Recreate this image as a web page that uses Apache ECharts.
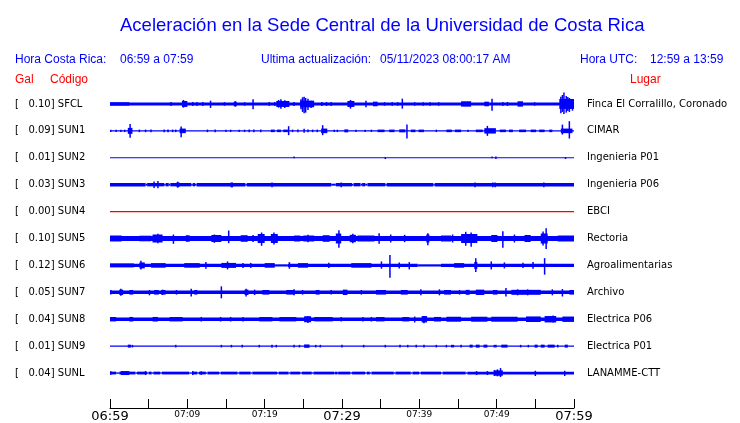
<!DOCTYPE html>
<html><head><meta charset="utf-8">
<script src="https://cdn.jsdelivr.net/npm/echarts@6/dist/echarts.min.js"></script>
<style>html,body{margin:0;padding:0;background:#fff}#c{width:740px;height:423px}</style>
</head><body><div id="c"></div>
<script>
// ---- data ----
const codes = ['SFCL','SUN1','SUN2','SUN3','SUN4','SUN5','SUN6','SUN7','SUN8','SUN9','SUNL'];
const peakGal = [0.10,0.09,0.01,0.03,0.00,0.10,0.12,0.05,0.04,0.01,0.04];
const places = ['Finca El Corralillo, Coronado','CIMAR','Ingenieria P01','Ingenieria P06','EBCI','Rectoria','Agroalimentarias','Archivo','Electrica P06','Electrica P01','LANAMME-CTT'];
const tickLabels = ['06:59','07:09','07:19','07:29','07:39','07:49','07:59'];
// time in minutes after 06:59, amplitudes in 0.01 Gal
const baseHalf = [1.5,0.6,0.55,1.7,0.55,2.5,1.7,1.7,1.7,0.6,1.4];
const quietHalf = [0,0,0,1.0,0,0,1.1,0,0,0,0.7];

// events: [startMin, endMin, ampUp, ampDown]
const sfclEvents = [
 [0,2.5,1.7,1.7],[7.9,7.9,2,2],[9.3,10.0,3,3],[9.5,9.5,4,3.7],
 [10.7,10.7,2,2],[11.25,11.25,2,2],[12.0,12.0,2,2],[13.0,13.0,3.3,4],[14.8,14.8,1.8,1.8],
 [16.0,16.4,2.3,2.3],[16.2,16.2,2.7,2.7],[17.4,17.4,1.8,1.8],[18.5,18.5,4.7,5.3],
 [20.6,20.6,2,2],[21.3,21.3,2,2],[21.5,23.2,3,3],[22.1,22.1,4.7,4.7],[21.8,21.8,4,3.7],[22.6,22.6,3.7,4],
 [23.8,23.8,2,2],[24.6,26.4,3.3,3.3],[24.7,24.7,4.7,5.3],[24.9,24.9,6.7,8],[25.1,25.1,7.3,9.3],
 [25.3,25.3,6,8.7],[25.6,25.6,5.3,6],[26.0,26.0,3.3,4],
 [27.4,27.4,2,2],[28.0,28.0,2,2],[28.6,28.6,2,2],[30.7,31.6,3,3],[31.1,31.1,4,4.7],
 [33.1,33.1,3.3,3.3],[34.0,34.6,2.3,2.3],[35.5,35.5,1.8,1.8],[36.5,36.5,1.8,1.8],[37.2,37.2,1.8,1.8],
 [37.8,37.8,5.3,4.7],[39.4,39.4,1.8,1.8],[40.5,40.5,1.8,1.8],[41.4,41.4,1.8,1.8],[42.5,42.5,1.8,1.8],
 [45.4,46.7,2.7,2.7],[48.4,49.0,2.3,2.3],[49.4,49.4,5.3,6.7],[50.8,50.8,2,2],[51.4,51.4,2,2],
 [52.7,53.4,2.7,2.7],[54.9,54.9,1.8,1.8],
 [58.1,60,5,5],[58.3,58.3,7.3,9.3],[58.5,58.5,9,8],[58.7,58.7,11.6,10],[59.0,59.0,8,8.7],[59.2,59.2,7,7],[59.4,59.4,6,8],[59.8,59.8,4.7,6.7]
];
const sun1Events = [
 [0.1,0.1,1.2,1.2],[0.8,0.8,1.2,1.2],[1.4,1.4,1.2,1.2],[1.9,1.9,1.2,1.2],
 [2.3,2.9,3,3],[2.6,2.6,7,7],[3.8,3.8,1.3,1.3],[4.6,4.6,1.3,1.3],[5.3,5.3,1.3,1.3],
 [7.0,7.0,1.3,1.3],[7.5,7.5,1.3,1.3],[8.1,8.1,1.3,1.3],[8.5,8.5,1.3,1.3],
 [9.0,9.8,2.3,2.3],[9.2,9.2,4.3,6.3],[12.6,12.6,1.3,1.3],[13.6,13.6,1.3,1.3],
 [15.0,15.0,1.2,1.2],[15.6,15.6,1.2,1.2],[16.7,16.7,1.2,1.2],[17.4,17.4,1.2,1.2],
 [18.0,18.0,1.3,1.3],[18.6,18.6,1.3,1.3],[19.5,19.5,1.3,1.3],
 [20.8,21.3,1.3,1.3],[21.6,22.1,1.3,1.3],[22.4,23.0,1.3,1.3],[23.1,23.1,4.7,4.3],
 [23.6,23.6,1.3,1.3],[24.3,24.3,1.3,1.3],[25.1,25.1,2,2],[25.6,25.6,1.3,1.3],
 [26.2,26.2,1.3,1.3],[26.8,26.8,1.3,1.3],[27.3,28.1,2.3,2.3],[27.5,27.5,5.7,4.3],
 [29.0,29.0,1.2,1.2],[29.4,29.4,1.2,1.2],[30.3,30.8,1.5,1.5],
 [31.8,31.8,1.2,1.2],[33.0,33.0,1.2,1.2],[33.8,33.8,1.2,1.2],
 [34.6,35.5,1.3,1.3],[36.1,36.8,1.3,1.3],[37.4,38.2,1.5,1.5],[38.4,38.4,6.3,7.7],
 [38.9,39.5,1.3,1.3],[39.9,40.6,1.3,1.3],[42.2,42.2,1.2,1.2],[43.5,44.2,1.3,1.3],[44.6,45.4,1.3,1.3],[46.3,46.3,1.2,1.2],
 [47.3,48.2,1.3,1.3],[48.4,49.9,2.7,2.7],[48.8,48.8,5,5],
 [50.4,51.2,1.3,1.3],[51.6,52.1,1.3,1.3],[52.9,53.8,1.3,1.3],[54.4,55.1,1.3,1.3],[55.5,56.2,1.3,1.3],[56.8,57.2,1.3,1.3],
 [58.3,59.8,2.3,2.3],[58.5,58.5,6.3,3.7],[59.4,59.4,9.7,7.7]
];
const sun2Events = [[23.8,23.8,1.3,0.5],[35.6,35.6,0.5,1.3],[49.4,49.4,1.3,0.5],[49.9,49.9,1.3,1.3],[58.9,58.9,0.5,1.3]];
const sun3Events = [
 [5.7,5.7,3.3,3.3],[6.2,6.2,3.7,3.7],[8.6,9.0,2.2,2.2],[8.75,8.75,3,3],[15.6,15.9,2.3,2.7],
 [20.95,20.95,2.3,2.7],[29.9,29.9,2.3,2.7],[47.2,47.2,2.3,2.7],[49.5,49.5,2.3,2.7],[49.8,49.8,2.3,2.7],[56.1,56.1,2.3,2.7]
];
const sun3Quiet = [[4.6,4.8],[7.0,7.2],[7.6,7.8],[10.5,10.7],[11.0,11.2],[17.5,17.7],[28.6,29.2],[31.3,31.5],[32.4,32.6],[33.0,33.3],[35.6,35.8],[41.8,42.0]];
const sun4Events = [];
const sun5Events = [
 [0,1.5,3,3],[3.8,5.3,2.8,2.8],[5.5,6.8,4,4],[6.2,6.2,4.7,4.7],[8.2,8.2,4,5.3],[9.8,10.3,3.3,3.3],
 [13.1,14.4,3.5,3.5],[13.5,13.5,4,4.3],[15.35,15.35,8,4.7],[16.9,17.8,3.3,3.3],[18.5,18.5,3.5,3.5],
 [19.1,20.0,4.5,4.5],[19.6,19.6,6,7.3],[20.8,21.7,4.5,4.5],[21.2,21.2,6,6],
 [23.8,24.6,3,3],[25.0,26.4,3,3],[25.6,25.6,3.7,3.7],[27.5,28.4,3.3,3.3],
 [29.2,29.9,5,5],[29.6,29.6,8.3,9.3],[31.0,31.8,3.7,3.7],[31.4,31.4,4.7,4.7],[32.0,34.2,3,3],
 [34.8,34.8,5.3,5.3],[36.3,36.3,4,4],[38.1,38.1,3.7,3.7],[40.9,41.3,4,4],[41.1,41.1,5.3,6.7],
 [42.8,44.1,3,3],[44.3,44.3,4,4],[45.4,47.5,4.5,4.5],[46.0,46.0,6.7,7.3],[46.7,46.7,6,8.3],
 [49.3,50.1,3.5,3.5],[50.8,50.8,7.3,9.3],[52.3,52.3,4,4],[53.6,54.4,3.5,3.5],
 [55.7,56.6,5,5],[56.0,56.0,7,7],[56.4,56.4,10.3,10.5],[57.9,60,3,3]
];
const sun6Events = [
 [0,3.1,2,2],[3.8,4.5,3,3],[4.0,4.0,4.7,4],[5.3,7.2,2.3,2.3],[9.6,11.6,2.3,2.3],[12.4,12.4,3.3,3.3],
 [14.4,16.3,2.5,2.5],[15.2,15.2,4,4],[17.2,17.2,2.5,2.5],[18.2,18.2,2.5,2.5],[20.0,21.3,2.3,2.3],
 [23.2,23.2,3.3,3.3],[24.3,25.6,2.3,2.3],[28.3,28.3,2.7,2.7],[31.2,33.8,2.3,2.3],
 [35.1,35.1,4,3.3],[36.2,36.2,10.5,12.5],[37.4,37.4,3,3],[38.7,38.7,3.3,4],[44.5,45.8,2.3,2.3],
 [47.1,47.5,3.5,3.5],[47.3,47.3,7.2,6.5],[49.3,49.3,4,4],[51.0,51.0,3,3],[53.4,53.4,2.7,2.7],[54.7,54.7,3.3,3.3],
 [56.2,56.2,7.3,9.3]
];
const sun6Quiet = [[21.3,23.0],[39.8,42.8]];
const sun7Events = [
 [0.1,0.1,2.3,2.3],[1.2,1.7,2.7,2.7],[1.4,1.4,3.5,3.5],[2.5,3.0,2.3,2.3],[5.1,5.1,2.3,3],
 [5.7,6.3,2.3,2.3],[6.6,7.2,2.3,2.3],[6.8,6.8,2.7,2.7],[8.6,8.6,2.3,2.3],[10.5,10.5,3.7,4.3],
 [10.9,11.3,2.3,2.3],[14.4,14.4,6,6],[17.4,17.9,2.7,2.7],[17.6,17.6,3.5,4.2],[18.7,18.7,2.7,2.7],
 [19.7,20.6,2.3,2.3],[22.8,23.9,2.3,2.3],[23.8,23.8,3,3],[24.9,24.9,2.3,2.3],[26.6,27.1,2.3,2.3],
 [28.6,28.6,2.3,2.3],[30.1,30.7,2.7,2.7],[32.5,32.5,2.3,2.3],[34.4,35.7,2.3,2.3],[37.6,38.5,2.3,2.3],
 [40.2,40.2,3,3],[42.6,42.6,3,3],[43.2,44.1,2.3,2.3],[45.2,45.2,2.3,2.3],[46.0,46.5,2.5,2.5],
 [47.3,48.4,2.7,2.7],[49.5,50.1,2.3,2.3],[51.2,51.2,4.3,4.3],[51.9,55.7,2.5,2.5],[52.7,52.7,3,3],
 [54.0,54.0,3,3],[57.2,57.2,3,3],[58.5,58.5,3.3,4.2],[59.4,60,2.3,2.3]
];
const sun8Events = [
 [0,0.8,2.2,2.2],[2.5,3.0,2.3,2.3],[5.5,6.2,2.3,2.3],[7.7,9.4,2.2,2.2],[11.8,11.8,2.3,2.3],
 [14.3,14.3,2.3,2.3],[15.6,15.6,2.3,2.3],[17.2,17.2,2.3,2.3],[19.3,21.0,2.2,2.2],[21.9,24.1,2.2,2.2],
 [25.1,26.0,3,3],[25.6,25.6,3.3,3.7],[26.4,28.8,2.2,2.2],[29.9,29.9,2.3,2.3],[32.7,32.7,2.3,2.3],
 [33.8,33.8,2.3,2.3],[34.4,35.5,2.2,2.2],[37.8,38.7,2.2,2.2],[39.4,39.4,2.7,3.3],[40.3,41.0,3.2,3.2],
 [40.6,40.6,3.3,4],[41.9,42.8,2.3,2.3],[43.5,45.4,2.5,2.5],[46.7,48.8,2.5,2.5],[49.3,52.7,2.5,2.5],
 [53.8,55.7,2.8,2.8],[56.2,57.7,3.2,3.2],[57.3,57.3,3.7,3.2],[58.5,60,2.7,2.7]
];
const sun9Events = [
 [2.3,2.7,1.5,1.5],[2.9,2.9,1.3,1.3],[8.5,8.5,1.3,1.3],[14.4,14.4,1.3,1.3],[15.7,15.7,1.3,1.3],
 [17.1,17.1,1.3,1.3],[19.3,19.3,1.3,1.3],[20.95,20.95,1.5,1.5],[21.5,21.5,1.3,1.3],[23.8,23.8,1.3,1.3],
 [24.5,24.5,1.3,1.3],[25.1,25.8,1.7,1.7],[26.6,26.6,1.3,1.3],[27.2,27.2,1.3,1.3],[30.0,30.0,1.3,1.3],
 [32.8,32.8,1.3,1.3],[35.6,35.6,1.3,1.3],[37.5,37.5,1.3,1.3],[38.5,38.5,1.3,1.3],[39.6,39.6,1.3,1.3],
 [40.6,40.6,1.3,1.3],[42.2,42.2,1.3,1.3],[43.5,43.5,1.3,1.3],[44.1,44.5,1.3,1.3],[45.4,45.4,1.3,1.3],
 [46.5,46.9,1.5,1.5],[47.3,47.8,1.5,1.5],[48.3,48.8,1.5,1.5],[49.7,49.7,1.3,1.3],[49.9,49.9,1.3,1.3],
 [50.6,51.4,1.5,1.5],[53.1,53.1,1.3,1.3],[54.1,54.1,1.3,1.3],[54.9,55.3,1.5,1.5],[55.7,56.2,1.5,1.5],
 [56.6,57.5,1.5,1.5],[57.9,57.9,1.3,1.3],[58.8,59.2,1.5,1.5]
];
const sunlEvents = [
 [0.1,0.1,1.8,1.8],[1.4,2.5,2.0,2.0],[4.6,4.6,2,2],[10.7,10.7,2,2],[11.8,11.8,1.8,1.8],
 [47.4,47.4,2,2],[48.8,48.8,2,2],[49.7,50.8,2.7,2.7],[49.7,49.7,3,3],[50.1,50.1,3.7,3.3],[50.5,50.5,5,4],
 [55.0,55.0,2.3,3],[58.8,58.8,2.3,3]
];
const sunlQuiet = [[0.8,1.2],[1.75,1.95],[3.3,3.5],[4.8,5.0],[5.4,5.6],[6.5,6.7],[10.25,10.6],[11.3,11.5],
 [12.4,12.6],[14.1,14.3],[16.5,16.7],[18.2,18.4],[21.6,21.8],[23.1,23.3],[24.6,24.8],[26.1,26.3],
 [29.0,29.1],[29.4,29.5],[31.1,31.3],[33.0,33.2],[33.6,33.8],[36.7,36.9],[38.9,39.1],[40.0,40.2],
 [42.8,43.0],[46.0,46.2]];

const traceEvents = [sfclEvents,sun1Events,sun2Events,sun3Events,sun4Events,sun5Events,sun6Events,sun7Events,sun8Events,sun9Events,sunlEvents];
const traceQuiet = [[],[],[],sun3Quiet,[],[],sun6Quiet,[],[],[],sunlQuiet];

// ---- chart ----
const SPACING = 27; // 0.01 Gal between trace baselines
const BLUE = '#0000ff', RED = '#ff0000';
const traceColors = codes.map((c,i)=> i===4 ? RED : BLUE);

function basePieces(half, quiet, qh){
  const out=[]; let t=0;
  quiet.forEach(q=>{ if(q[0]>t) out.push([t,q[0],half,half]); out.push([q[0],q[1],qh,qh]); t=q[1]; });
  if(t<60) out.push([t,60,half,half]);
  return out;
}
function makeRender(idx){
  return function(params, api){
    const t0=api.value(0), t1=api.value(1), up=api.value(2), dn=api.value(3);
    const off = idx*SPACING;
    const a = api.coord([t0, off-up]);
    const b = api.coord([t1, off+dn]);
    let x=a[0], w=b[0]-a[0];
    if(w<1.5){ x -= (1.5-w)/2; w=1.5; }
    return {type:'rect', shape:{x:x, y:a[1], width:w, height:b[1]-a[1]}, style:{fill:traceColors[idx]}};
  };
}
const series = codes.map((c,i)=>({
  type:'custom', xAxisIndex:0, yAxisIndex:0, silent:true, animation:false,
  renderItem: makeRender(i),
  data: basePieces(baseHalf[i], traceQuiet[i], quietHalf[i]).concat(traceEvents[i])
}));

const leftLabels = codes.map((c,i)=>'[   '+peakGal[i].toFixed(2)+'] '+c);
const hdrFont = '12px "Liberation Sans", Arial, sans-serif';
const txt = (x,y,s,color)=>({type:'text', left:x, top:y, silent:true, style:{text:s, fill:color, font:hdrFont}});

const chart = echarts.init(document.getElementById('c'), null, {renderer:'canvas'});
chart.setOption({
  animation:false,
  backgroundColor:'#fff',
  title:{text:'Aceleración en la Sede Central de la Universidad de Costa Rica', left:115, top:11,
    textStyle:{color:BLUE, fontSize:18.5, fontWeight:'normal', fontFamily:'"Liberation Sans", Arial, sans-serif'}},
  graphic:[
    txt(15,54,'Hora Costa Rica:',BLUE), txt(120,54,'06:59 a 07:59',BLUE),
    txt(261,54,'Ultima actualización:',BLUE), txt(380,54,'05/11/2023 08:00:17 AM',BLUE),
    txt(580,54,'Hora UTC:',BLUE), txt(650,54,'12:59 a 13:59',BLUE),
    txt(15,74,'Gal',RED), txt(50,74,'Código',RED), txt(630,74,'Lugar',RED)
  ],
  grid:{left:110, width:464, top:90.5, height:297, containLabel:false},
  xAxis:{type:'value', min:0, max:60, interval:5, position:'bottom', offset:21.5,
    axisLine:{show:true, onZero:false, lineStyle:{color:'#000', width:1}},
    axisTick:{show:true, inside:true, length:9, lineStyle:{color:'#000'}},
    splitLine:{show:false},
    axisLabel:{margin:1.5, showMinLabel:true, showMaxLabel:true,
      formatter:function(v){ if(v%10!==0) return ''; const s=tickLabels[v/10]; return v%30===0 ? '{big|'+s+'}' : '{small|'+s+'}'; },
      rich:{big:{fontSize:13, lineHeight:14, fontFamily:'"DejaVu Sans"', color:'#000'},
            small:{fontSize:9, lineHeight:10, fontFamily:'"DejaVu Sans"', color:'#000'}}}
  },
  yAxis:[
    {type:'value', min:-13.5, max:283.5, inverse:true, show:false},
    {type:'category', data:leftLabels, inverse:true, position:'left',
      axisLine:{show:false}, axisTick:{show:false}, splitLine:{show:false},
      axisLabel:{align:'left', margin:95, color:'#000', fontSize:10, fontFamily:'"DejaVu Sans"'}},
    {type:'category', data:places, inverse:true, position:'right',
      axisLine:{show:false}, axisTick:{show:false}, splitLine:{show:false},
      axisLabel:{align:'left', margin:13, color:'#000', fontSize:10, fontFamily:'"DejaVu Sans"'}}
  ],
  series: series
});
</script>
</body></html>
